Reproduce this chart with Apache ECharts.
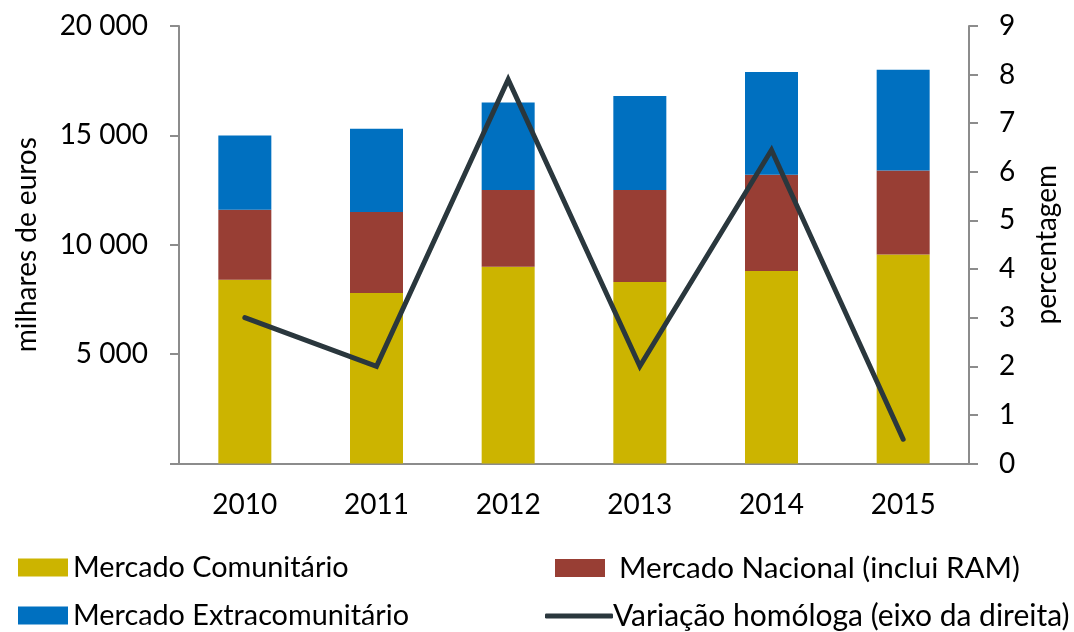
<!DOCTYPE html>
<html>
<head>
<meta charset="utf-8">
<script src="https://cdn.jsdelivr.net/npm/echarts@6/dist/echarts.min.js"></script>
<style>
  html, body { margin: 0; padding: 0; background: #fff; }
  #chart { width: 1074px; height: 632px; }
</style>
</head>
<body>
<div id="chart"></div>
<script>
var myChart = echarts.init(document.getElementById("chart"));

var anos = ["2010", "2011", "2012", "2013", "2014", "2015"];
var comunitario = [8400, 7800, 9000, 8300, 8800, 9550];
var nacional = [3200, 3700, 3500, 4200, 4400, 3850];
var extracomunitario = [3400, 3800, 4000, 4300, 4700, 4600];
var variacao = [3.0, 2.0, 7.9, 2.0, 6.45, 0.5];

var fonte = "Lato, 'Open Sans', sans-serif";
var cinza = "#8c8c8c";

function milhares(v) {
	return String(v).replace(/\B(?=(\d{3})+(?!\d))/g, " ");
}

function legenda(nome, left, top, w, h, icone, gap, tamanho) {
	return {
		data: [{ name: nome, icon: icone }],
		left: left,
		top: top,
		itemWidth: w,
		itemHeight: h,
		itemGap: 0,
		textStyle: { fontFamily: fonte, fontSize: tamanho, color: "#000", padding: [0, 0, 0, gap] }
	};
}

var option = {
	animation: false,
	grid: { left: 179, right: 105, top: 26, bottom: 168.5 },
	legend: [
		legenda("Mercado Comunitário", 13, 548, 50, 18, "rect", 0, 28.8),
		legenda("Mercado Extracomunitário", 13, 596, 50, 18, "rect", 0, 28.8),
		legenda("Mercado Nacional (inclui RAM)", 550, 548, 50, 18, "rect", 9, 29.6),
		legenda("Variação homóloga (eixo da direita)", 540, 596, 68, 5, "roundRect", -5, 30)
	],
	xAxis: {
		type: "category",
		data: anos,
		axisLine: { lineStyle: { color: cinza, width: 2 } },
		axisTick: { alignWithLabel: false, length: 10, lineStyle: { color: cinza, width: 2 } },
		axisLabel: { fontFamily: fonte, fontSize: 28, color: "#000", margin: 27 }
	},
	yAxis: [
		{
			type: "value",
			min: 0,
			max: 20000,
			interval: 5000,
			name: "milhares de euros",
			nameLocation: "middle",
			nameGap: 138,
			nameTextStyle: { fontFamily: fonte, fontSize: 28, color: "#000" },
			axisLine: { show: true, lineStyle: { color: cinza, width: 2 } },
			axisTick: { show: true, length: 9, lineStyle: { color: cinza, width: 2 } },
			splitLine: { show: false },
			axisLabel: {
				fontFamily: fonte,
				fontSize: 28,
				color: "#000",
				margin: 31,
				formatter: function (v) { return v === 0 ? "" : milhares(v); }
			}
		},
		{
			type: "value",
			min: 0,
			max: 9,
			interval: 1,
			position: "right",
			name: "percentagem",
			nameLocation: "middle",
			nameGap: 64,
			nameTextStyle: { fontFamily: fonte, fontSize: 28, color: "#000" },
			axisLine: { show: true, lineStyle: { color: cinza, width: 2 } },
			axisTick: { show: true, length: 9, lineStyle: { color: cinza, width: 2 } },
			splitLine: { show: false },
			axisLabel: { fontFamily: fonte, fontSize: 28, color: "#000", margin: 30 }
		}
	],
	series: [
		{
			name: "Mercado Comunitário",
			type: "bar",
			stack: "total",
			barWidth: 53,
			itemStyle: { color: "#ccb400" },
			data: comunitario
		},
		{
			name: "Mercado Nacional (inclui RAM)",
			type: "bar",
			stack: "total",
			barWidth: 53,
			itemStyle: { color: "#983e34" },
			data: nacional
		},
		{
			name: "Mercado Extracomunitário",
			type: "bar",
			stack: "total",
			barWidth: 53,
			itemStyle: { color: "#0070c0" },
			data: extracomunitario
		},
		{
			name: "Variação homóloga (eixo da direita)",
			type: "line",
			yAxisIndex: 1,
			symbol: "none",
			lineStyle: { color: "#2a373d", width: 5, cap: "round", join: "miter" },
			itemStyle: { color: "#2a373d" },
			data: variacao
		}
	]
};

myChart.setOption(option);

window.addEventListener("resize", function () {
	myChart.resize();
});
</script>
</body>
</html>
